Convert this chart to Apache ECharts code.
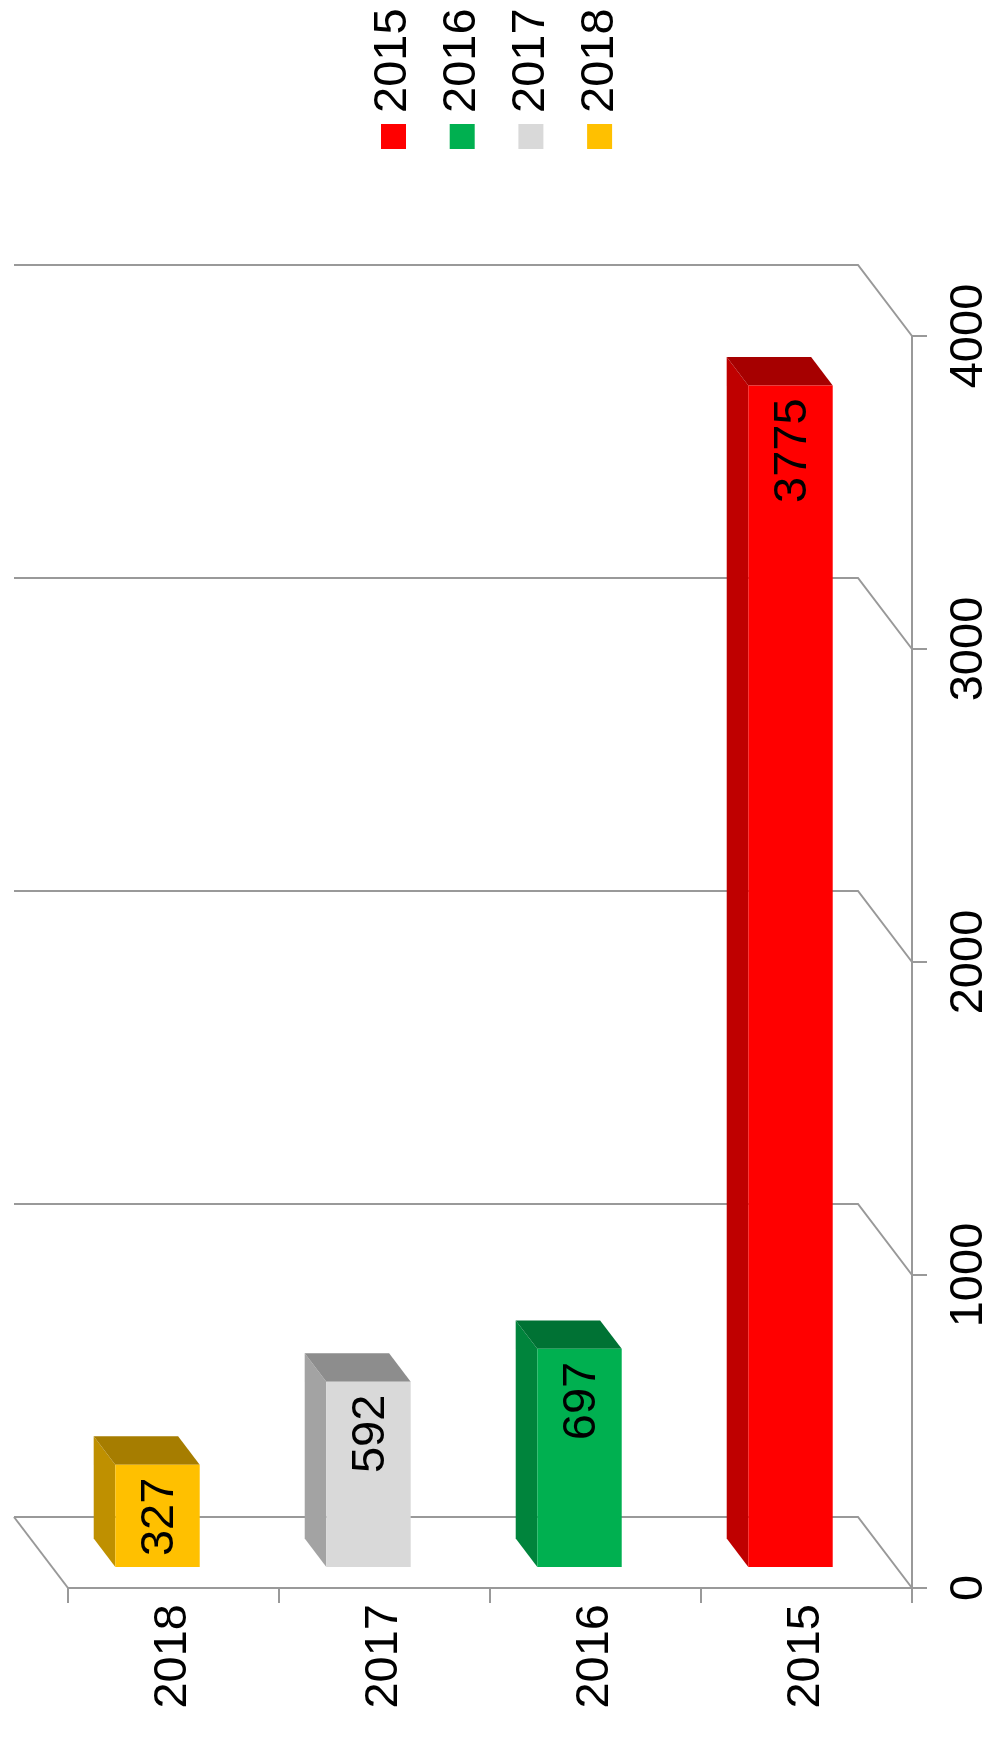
<!DOCTYPE html>
<html><head><meta charset="utf-8">
<script src="https://cdn.jsdelivr.net/npm/echarts@6/dist/echarts.min.js"></script>
<style>html,body{margin:0;padding:0;background:#fff}#c{width:987px;height:1755px}</style>
</head><body><div id="c"></div>
<script>
// ---- data ----
const categories = ['2018', '2017', '2016', '2015'];
const seriesNames = ['2015', '2016', '2017', '2018'];
const seriesValues = [3775, 697, 592, 327];
const seriesColors = ['#FF0000', '#00B050', '#D9D9D9', '#FFC000'];
const valueTicks = [0, 1000, 2000, 3000, 4000];

// ---- style ----
const FONT = "'Liberation Sans', Arial, sans-serif";
const FS = 47;
const DEPTH = [-54, -71];
const BAR_FRONT = 0.296, BAR_DEPTH = 0.4, BAR_WIDTH = 0.4;
const AXIS_COLOR = '#999999';

function shade(hex, f) {
  const n = parseInt(hex.slice(1), 16);
  const r = Math.round(((n >> 16) & 255) * f), g = Math.round(((n >> 8) & 255) * f), b = Math.round((n & 255) * f);
  return 'rgb(' + r + ',' + g + ',' + b + ')';
}

function wallRender(params, api) {
  const v = api.value(1);
  const n = categories.length;
  const bw = api.size([1, 0])[0];
  const pL = api.coord([0, v]), pR = api.coord([n - 1, v]);
  const xl = pL[0] - bw / 2, xr = pR[0] + bw / 2, y = pL[1];
  const style = { stroke: AXIS_COLOR, lineWidth: 2, fill: null };
  const children = [{
    type: 'polyline',
    shape: { points: [[xl + DEPTH[0], y + DEPTH[1]], [xr + DEPTH[0], y + DEPTH[1]], [xr, y]] },
    style: style
  }];
  if (v === 0) {
    children.push({ type: 'line', shape: { x1: xl + DEPTH[0], y1: y + DEPTH[1], x2: xl, y2: y }, style: style });
  }
  return { type: 'group', children: children };
}

function makeBarRender(color) {
  return function (params, api) {
    const ci = api.value(0), v = api.value(1);
    const base = api.coord([ci, 0]), top = api.coord([ci, v]);
    const bw = api.size([1, 0])[0] * BAR_WIDTH;
    const fx = DEPTH[0] * BAR_FRONT, fy = DEPTH[1] * BAR_FRONT;
    const dx = DEPTH[0] * BAR_DEPTH, dy = DEPTH[1] * BAR_DEPTH;
    const xl = base[0] + fx - bw / 2, xr = xl + bw;
    const yb = base[1] + fy, yt = top[1] + fy;
    return {
      type: 'group',
      children: [
        { type: 'polygon', shape: { points: [[xl, yt], [xl + dx, yt + dy], [xl + dx, yb + dy], [xl, yb]] }, style: { fill: shade(color, 0.75) } },
        { type: 'polygon', shape: { points: [[xl, yt], [xr, yt], [xr + dx, yt + dy], [xl + dx, yt + dy]] }, style: { fill: shade(color, 0.65) } },
        { type: 'rect', shape: { x: xl, y: yt, width: bw, height: yb - yt }, style: { fill: color } },
        { type: 'text', x: (xl + xr) / 2 + 3, y: yt + 13, rotation: Math.PI / 2,
          style: { text: String(v), fill: '#000', fontSize: FS, fontFamily: FONT, align: 'right', verticalAlign: 'middle' } }
      ]
    };
  };
}

const series = [{
  type: 'custom', name: 'walls', z: 1, silent: true,
  renderItem: wallRender,
  data: valueTicks.map(v => [0, v])
}];
seriesNames.forEach((name, i) => {
  series.push({
    type: 'custom', name: name, z: 3,
    itemStyle: { color: seriesColors[i] },
    renderItem: makeBarRender(seriesColors[i]),
    data: [[categories.indexOf(name), seriesValues[i]]]
  });
});

const LEG_LEFT = 381, LEG_TOP = 124, LEG_SIZE = 25, LEG_STEP = 68.7;
const graphic = seriesNames.map((name, i) => ({
  type: 'text', x: LEG_LEFT + LEG_SIZE / 2 + i * LEG_STEP, y: 113, rotation: Math.PI / 2,
  style: { text: name, fill: '#000', fontSize: FS, fontFamily: FONT, align: 'left', verticalAlign: 'middle' }
}));

const chart = echarts.init(document.getElementById('c'), null, { renderer: 'canvas' });
chart.setOption({
  animation: false,
  backgroundColor: '#fff',
  grid: { left: 68, right: 75, top: 336, bottom: 167, containLabel: false, outerBoundsMode: 'none' },
  legend: {
    data: seriesNames, left: LEG_LEFT, top: LEG_TOP, orient: 'horizontal',
    icon: 'rect', itemWidth: LEG_SIZE, itemHeight: LEG_SIZE, itemGap: LEG_STEP - LEG_SIZE,
    formatter: function () { return ''; }, padding: 0, selectedMode: false
  },
  graphic: graphic,
  xAxis: {
    type: 'category', data: categories, position: 'bottom',
    axisLine: { show: true, lineStyle: { color: AXIS_COLOR, width: 2 } },
    axisTick: { show: true, alignWithLabel: false, length: 15, lineStyle: { color: AXIS_COLOR, width: 2 } },
    axisLabel: { rotate: 90, margin: 16, fontSize: FS, color: '#000', fontFamily: FONT },
    splitLine: { show: false }
  },
  yAxis: {
    type: 'value', position: 'right', min: 0, max: 4000, interval: 1000,
    axisLine: { show: true, lineStyle: { color: AXIS_COLOR, width: 2 } },
    axisTick: { show: true, length: 15, lineStyle: { color: AXIS_COLOR, width: 2 } },
    axisLabel: { rotate: 90, margin: 34, fontSize: FS, color: '#000', fontFamily: FONT,
      formatter: function (v) { return String(v); } },
    splitLine: { show: false }
  },
  series: series
});
</script>
</body></html>
